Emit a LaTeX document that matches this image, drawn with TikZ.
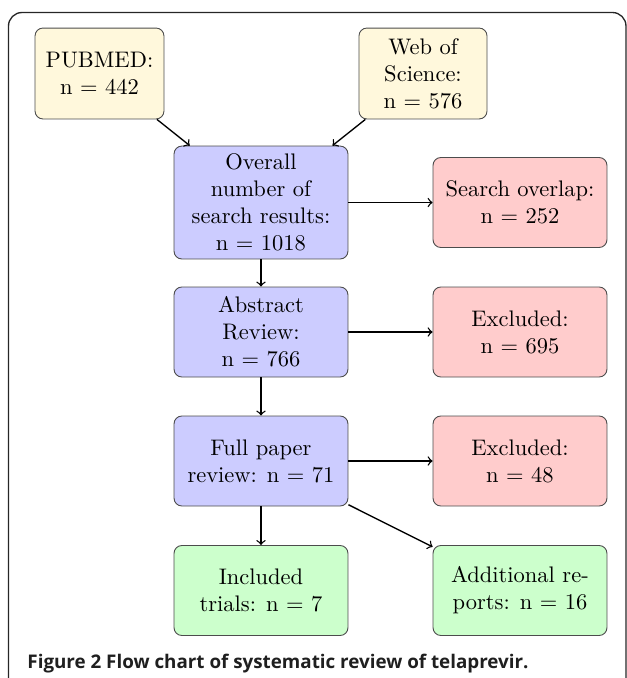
\documentclass[tikz,border=0pt]{standalone}
\usepackage{fontspec}
\usepackage{graphicx}
\newfontfamily\capfont{Open Sans}
\usetikzlibrary{arrows}
\definecolor{boxyellow}{RGB}{255,248,220}
\definecolor{boxblue}{RGB}{204,204,255}
\definecolor{boxred}{RGB}{255,204,204}
\definecolor{boxgreen}{RGB}{204,255,204}
\tikzset{
  box/.style={rectangle, rounded corners=3.5pt, draw=black!70, line width=0.4pt,
    minimum width=77.3pt, minimum height=40pt, align=center, inner sep=2pt,
    font=\normalsize},
  srcbox/.style={box, fill=boxyellow},
  mainbox/.style={box, fill=boxblue},
  exbox/.style={box, fill=boxred},
  inbox/.style={box, fill=boxgreen},
  arr/.style={->, >=to, semithick, black},
  frame/.style={draw=black!85, line width=0.6pt, rounded corners=6pt}
}
\begin{document}
\begin{tikzpicture}[x=0.4444pt, y=-0.4444pt]
\useasboundingbox (0,0) rectangle (627,678);
\begin{scope}
\clip (0,0) rectangle (627,678);
\draw[frame] (8.5,12.5) rectangle (626,720);
\end{scope}
% source boxes
\node[srcbox, minimum width=57.3pt, minimum height=40.4pt] (pubmed) at (99.5,73.5) {PUBMED:\\n = 442};
\node[srcbox, minimum width=56.9pt, minimum height=40.4pt] (wos) at (423,73.5) {Web of\\Science:\\n = 576};
% main column
\node[mainbox, minimum height=50.2pt] (overall) at (261,202.5) {Overall\\number of\\search results:\\n = 1018};
\node[mainbox] (abstract) at (261,332) {Abstract\\Review:\\n = 766};
\node[mainbox] (full) at (261,461) {Full paper\\review: n = 71};
\node[inbox] (included) at (261,590.5) {Included\\trials: n = 7};
% right column
\node[exbox] (overlap) at (520,202.5) {Search overlap:\\n = 252};
\node[exbox] (excl1) at (520,332) {Excluded:\\n = 695};
\node[exbox] (excl2) at (520,461) {Excluded:\\n = 48};
\node[inbox] (additional) at (520,590.5) {Additional re-\\ports: n = 16};
% connectors
\draw[arr] (pubmed) -- (overall);
\draw[arr] (wos) -- (overall);
\draw[arr] (overall) -- (overlap);
\draw[arr] (overall) -- (abstract);
\draw[arr] (abstract) -- (excl1);
\draw[arr] (abstract) -- (full);
\draw[arr] (full) -- (excl2);
\draw[arr] (full) -- (included);
\draw[arr] (full) -- (additional);
% caption
\node[anchor=base west, inner sep=0pt, text=black!88] (caption) at (27,668)
  {\resizebox{222.7pt}{!}{\capfont\bfseries Figure 2 Flow chart of systematic review of telaprevir.}};
\end{tikzpicture}
\end{document}
